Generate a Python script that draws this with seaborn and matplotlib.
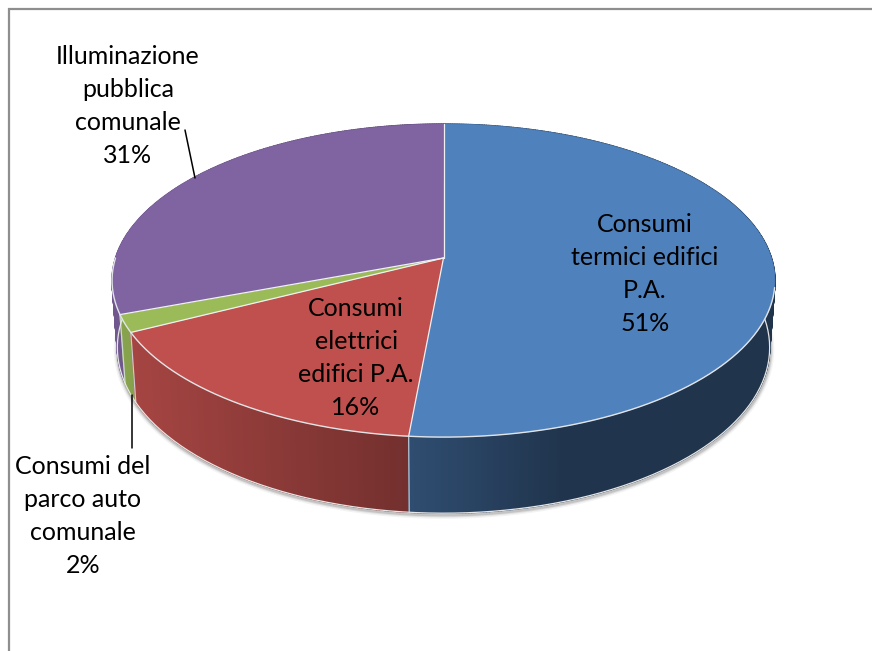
import numpy as np
import matplotlib
matplotlib.use('Agg')
import matplotlib.pyplot as plt
import seaborn as sns

# values, clockwise from 12 o'clock
categories = [
    'Consumi\ntermici edifici\nP.A.',
    'Consumi\nelettrici\nedifici P.A.',
    'Consumi del\nparco auto\ncomunale',
    'Illuminazione\npubblica\ncomunale',
]
values = [51.45, 16.05, 1.8, 30.7]
colors = ['#4f81bd', '#c0504d', '#9bbb59', '#8064a2']
label_centers = [(645, 274), (356, 358), (83, 516), (128, 106)]

sns.set_theme(style='white')
plt.rcParams['font.family'] = ['Lato', 'DejaVu Sans']

# perspective of the disc, in pixels of the 872x651 image
CX, CY = 443.5, 258
A, B, K = 328, 153.3, 0.144
WALL_SCALE_X, WALL_SCALE_Y, WALL_DROP = 0.984, 1.058, 65.7


def top_rim(theta):
    d = 1 + K * np.cos(theta)
    return A * np.sin(theta) / d, -B * np.cos(theta) / d


def bottom_rim(theta):
    x, y = top_rim(theta)
    return x * WALL_SCALE_X, y * WALL_SCALE_Y + WALL_DROP


def wall_shade(px):
    # excel lights the side from the left, darkest on the right
    return np.interp(px, [113, 408, 560, 775], [0.88, 0.60, 0.41, 0.40])


fig = plt.figure(figsize=(8.72, 6.51), dpi=100)
ax = fig.add_axes([0, 0, 1, 1])
ax.set_xlim(0, 872)
ax.set_ylim(651, 0)
ax.axis('off')

# chart frame, only top and left are inside the crop
ax.plot([8.5, 8.5, 872], [651, 9, 9], color='#8e8e8e', lw=1.6, solid_joinstyle='miter', zorder=1)

palette = sns.color_palette(colors)
edges = 2 * np.pi * np.concatenate([[0], np.cumsum(values)]) / np.sum(values)

# soft shadow under the front rim
front = np.linspace(np.pi * 0.47, np.pi * 1.55, 200)
sx, sy = bottom_rim(front)
for lw, alpha in [(6, 0.07), (4, 0.12), (2.5, 0.2)]:
    ax.plot(CX + sx + 0.5, CY + sy + 1.5, color='#555555', lw=lw, alpha=alpha,
            solid_capstyle='round', zorder=2)

# side wall, back to front, strips overlap so no seams show
quads = []
for i, col in enumerate(palette):
    t = np.linspace(edges[i], edges[i + 1], max(int(values[i] * 8), 10))
    for a0, a1 in zip(t[:-1], t[1:]):
        quads.append((a0, a1, col))
quads.sort(key=lambda q: -np.cos((q[0] + q[1]) / 2))
for a0, a1, col in quads:
    x0, y0 = top_rim(a0)
    x1, y1 = top_rim(a1)
    x2, y2 = bottom_rim(a1)
    x3, y3 = bottom_rim(a0)
    shade = wall_shade(CX + (x0 + x1) / 2)
    c = tuple(np.array(col) * shade)
    ax.fill(CX + np.array([x0, x1, x2, x3]), CY + np.array([y0, y1, y2, y3]),
            facecolor=c, edgecolor=c, lw=1.0, zorder=3)

# light lines on the wall
for e in edges[1:-1]:
    x0, y0 = top_rim(e)
    x1, y1 = bottom_rim(e)
    ax.plot([CX + x0, CX + x1], [CY + y0, CY + y1], color='#dfe6ee', lw=0.9, alpha=0.8, zorder=4)
lx, ly = bottom_rim(front)
ax.plot(CX + lx, CY + ly, color='#e6e6e6', lw=0.9, zorder=4)

# top of the pie
for i, col in enumerate(palette):
    t = np.linspace(edges[i], edges[i + 1], 200)
    x, y = top_rim(t)
    ax.fill(CX + np.r_[0, x], CY + np.r_[0, y], facecolor=col, edgecolor=col, lw=0.5, zorder=5)

# light radii and the front rim of the top
for e in edges[:-1]:
    x, y = top_rim(e)
    ax.plot([CX, CX + x], [CY, CY + y], color='#eef1f4', lw=0.9, zorder=6)
rim = np.linspace(np.pi * 0.56, np.pi * 1.5, 200)
rx, ry = top_rim(rim)
ax.plot(CX + rx, CY + ry, color='#e2e5e8', lw=1.0, zorder=6)

# labels
for name, v, (tx, ty) in zip(categories, values, label_centers):
    pct = round(v / sum(values) * 100)
    ax.text(tx, ty, f'{name}\n{pct}%', ha='center', va='center', fontsize=18,
            color='black', linespacing=1.52, zorder=8)

# leader lines
ax.plot([185, 195], [130, 178], color='black', lw=1.1, zorder=7)
ax.plot([132, 132], [395, 448], color='black', lw=1.1, zorder=7)

fig.savefig('out.png', dpi=100, facecolor='white')
